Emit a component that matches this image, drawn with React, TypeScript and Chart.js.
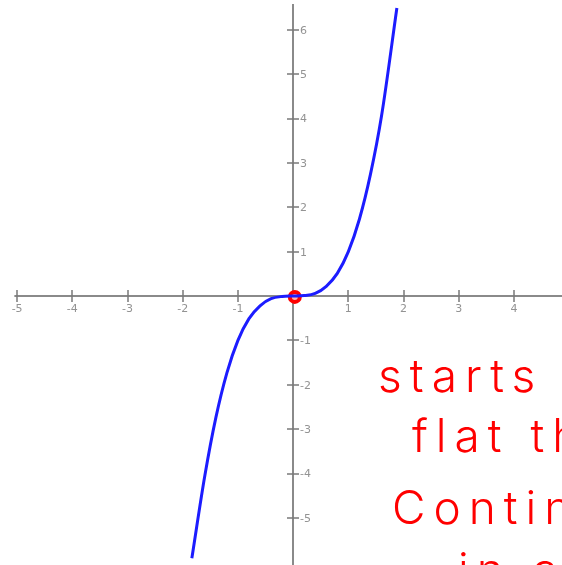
import { useEffect, useRef } from "react";
import { Chart, registerables } from "chart.js";

Chart.register(...registerables);

// Sampled points of the plotted curve y = x³
const curveX = [-1.835, -1.6, -1.4, -1.2, -1.0, -0.8, -0.6, -0.4, -0.2, 0, 0.2, 0.4, 0.6, 0.8, 1.0, 1.2, 1.4, 1.6, 1.879];
const curveY = [-5.91, -4.05, -2.74, -1.73, -1.0, -0.51, -0.22, -0.06, -0.01, 0, 0.01, 0.06, 0.22, 0.51, 1.0, 1.73, 2.74, 4.05, 6.49];

// Hand-marked point at the origin
const markX = [0.03];
const markY = [-0.02];

// Axis ticks and labels
const xTicks = [-5, -4, -3, -2, -1, 1, 2, 3, 4];
const yTicks = [-5, -4, -3, -2, -1, 1, 2, 3, 4, 5, 6];

// Visible extent of the drawn axes
const xAxisFrom = -5.05;
const yAxisTo = 6.58;

// Handwritten note
const noteLines = ["starts", "flat then", "Continues", "in a"];

const axesPlugin = {
  id: "centerAxes",
  beforeDatasetsDraw(chart: any) {
    const { ctx, scales, chartArea } = chart;
    const xs = scales.x;
    const ys = scales.y;
    const ox = Math.round(xs.getPixelForValue(0));
    const oy = Math.round(ys.getPixelForValue(0));
    ctx.save();
    ctx.strokeStyle = "#8a8a8a";
    ctx.lineWidth = 2;
    // axis lines
    ctx.beginPath();
    ctx.moveTo(xs.getPixelForValue(xAxisFrom), oy);
    ctx.lineTo(chartArea.right, oy);
    ctx.moveTo(ox, ys.getPixelForValue(yAxisTo));
    ctx.lineTo(ox, chartArea.bottom);
    ctx.stroke();
    // tick marks crossing the axes
    ctx.lineWidth = 1.5;
    ctx.strokeStyle = "#7a7a7a";
    ctx.beginPath();
    xTicks.forEach((v) => {
      const px = Math.round(xs.getPixelForValue(v));
      ctx.moveTo(px, oy - 6);
      ctx.lineTo(px, oy + 6);
    });
    yTicks.forEach((v) => {
      const py = Math.round(ys.getPixelForValue(v));
      ctx.moveTo(ox - 6, py);
      ctx.lineTo(ox + 6, py);
    });
    ctx.stroke();
    // tick labels
    ctx.fillStyle = "#939393";
    ctx.font = "11px 'DejaVu Sans'";
    ctx.textAlign = "center";
    ctx.textBaseline = "top";
    xTicks.forEach((v) => {
      ctx.fillText(String(v), xs.getPixelForValue(v), oy + 8);
    });
    ctx.textAlign = "left";
    ctx.textBaseline = "middle";
    yTicks.forEach((v) => {
      ctx.fillText(String(v), ox + 7, ys.getPixelForValue(v) + 1);
    });
    ctx.restore();
  },
};

const notePlugin = {
  id: "handNote",
  afterDraw(chart: any) {
    const { ctx } = chart;
    const starts = [
      [378, 392],
      [412, 452],
      [392, 524],
      [458, 586],
    ];
    ctx.save();
    ctx.fillStyle = "#ff0000";
    ctx.font = "300 46px Inter";
    (ctx as any).letterSpacing = "8px";
    ctx.textAlign = "left";
    ctx.textBaseline = "alphabetic";
    noteLines.forEach((line, i) => {
      ctx.fillText(line, starts[i][0], starts[i][1]);
    });
    ctx.restore();
  },
};

export default function App() {
  const canvasRef = useRef<HTMLCanvasElement | null>(null);

  useEffect(() => {
    const canvas = canvasRef.current;
    if (!canvas) return;
    const chart = new Chart(canvas, {
      type: "scatter",
      data: {
        datasets: [
          {
            label: "y = x³",
            data: curveX.map((x, i) => ({ x, y: curveY[i] })),
            showLine: true,
            borderColor: "#1c1cff",
            borderWidth: 3,
            pointRadius: 0,
            cubicInterpolationMode: "monotone",
          },
          {
            label: "origin",
            data: markX.map((x, i) => ({ x, y: markY[i] })),
            pointRadius: 5,
            pointBorderWidth: 4,
            pointBorderColor: "#ff0000",
            pointBackgroundColor: "#ffb0b0",
          },
        ],
      },
      options: {
        responsive: false,
        animation: false,
        layout: { padding: 0, autoPadding: false },
        plugins: { legend: { display: false }, tooltip: { enabled: false } },
        scales: {
          x: { type: "linear", display: false, min: -5.31, max: 4.87 },
          y: { type: "linear", display: false, min: -6.06, max: 6.67 },
        },
      },
      plugins: [axesPlugin, notePlugin],
    });
    return () => chart.destroy();
  }, []);

  return (
    <div
      style={{
        position: "fixed",
        left: 0,
        top: 0,
        width: 562,
        height: 565,
        background: "#ffffff",
        overflow: "hidden",
      }}
    >
      <canvas ref={canvasRef} width={562} height={565} />
    </div>
  );
}
